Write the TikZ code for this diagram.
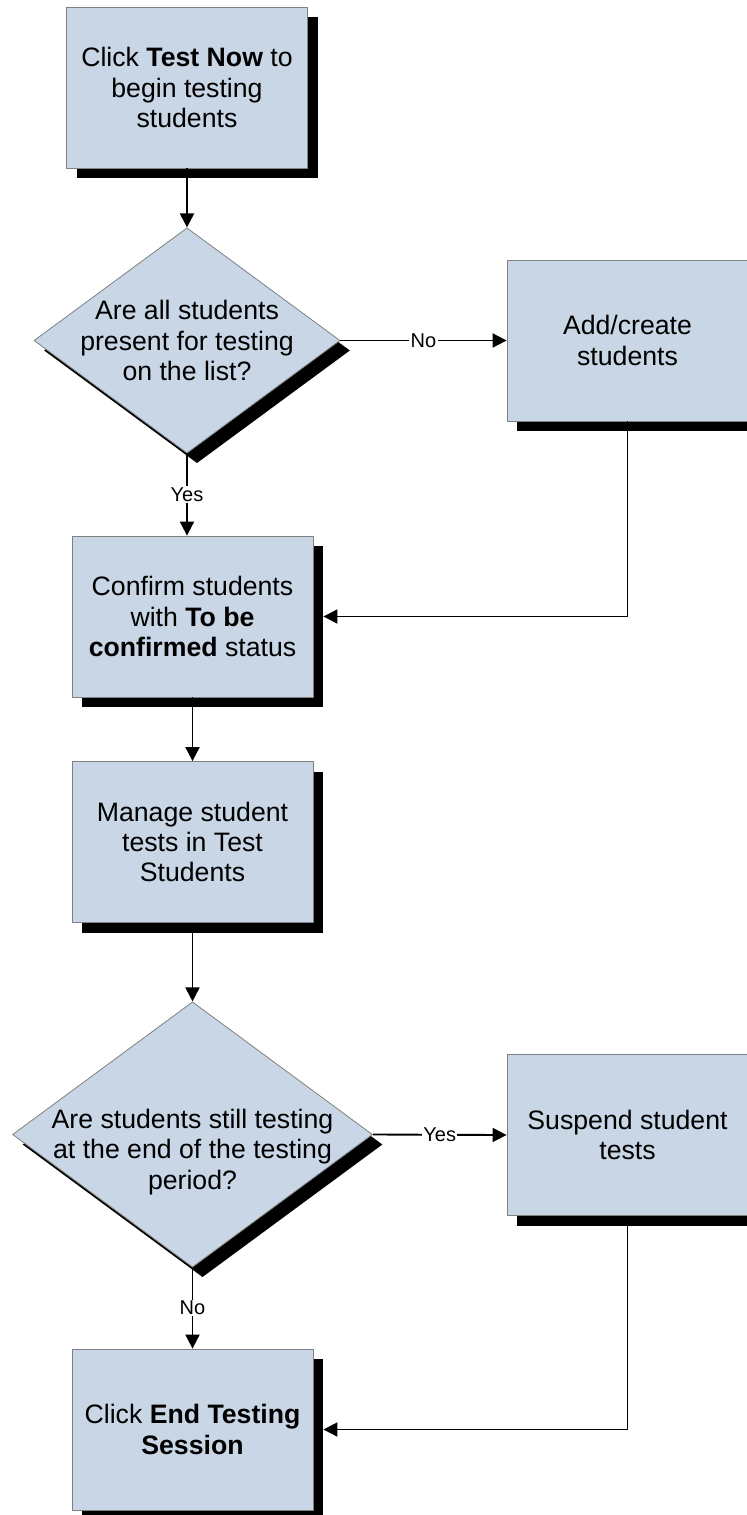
\documentclass[tikz,border=0pt]{standalone}
\usepackage{fontspec}
\setmainfont{Liberation Sans}
\usetikzlibrary{shapes.geometric,shadows,arrows.meta}
\definecolor{boxblue}{RGB}{200,214,229}
\begin{document}
\begin{tikzpicture}[x=.75pt, y=-.75pt, line join=round, >={Triangle[length=10.5pt,width=10.5pt]},
	font=\fontsize{20}{22.8}\selectfont,
	boxshadow/.style={drop shadow={shadow xshift=7.5pt, shadow yshift=-7.5pt, opacity=1, fill=black}},
	stepbox/.style={rectangle, boxshadow, fill=boxblue, draw=gray, line width=.6pt, minimum width=180.75pt, minimum height=120.75pt, align=center, inner sep=0pt},
	ask/.style={diamond, boxshadow, fill=boxblue, draw=gray, line width=.6pt, inner sep=0pt},
	txt/.style={align=center, inner sep=0pt},
	lbl/.style={fill=white, inner sep=1pt, font=\fontsize{15}{17}\selectfont},
	conn/.style={->, line width=1.4pt}]
	\useasboundingbox (0,0) rectangle (746,1515);
	% left column
	\node[stepbox] (start) at (187,87.5) {Click \textbf{Test Now} to\\begin testing\\students};
	\node[ask, minimum width=229.5pt, minimum height=169pt] (q1) at (187,340.5) {};
	\node[txt] (q1t) at (q1) {Are all students\\present for testing\\on the list?};
	\node[stepbox] (conf) at (192.5,616.5) {Confirm students\\with \textbf{To be}\\\textbf{confirmed} status};
	\node[stepbox] (manage) at (192.5,842) {Manage student\\tests in Test\\Students};
	\node[ask, minimum width=270pt, minimum height=199pt] (q2) at (192.5,1134.5) {};
	\node[txt] (q2t) at (192.5,1152) {Are students still testing\\at the end of the testing\\period?};
	\node[stepbox] (endb) at (192.5,1429.5) {Click \textbf{End Testing}\\\textbf{Session}};
	% right column
	\node[stepbox] (add) at (627.5,340.5) {Add/create\\students};
	\node[stepbox] (susp) at (627.5,1135) {Suspend student\\tests};
	% connectors
	\draw[conn] (start.south) -- (q1.north);
	\draw[conn] (q1.east) -- node[lbl] (no1) {No} (add.west);
	\draw[conn] (q1.south) -- node[lbl] (yes1) {Yes} (q1.south |- conf.north);
	\draw[conn] (add.south) |- ([xshift=7.5pt]conf.east);
	\draw[conn] (conf.south) -- (manage.north);
	\draw[conn] (manage.south) -- (q2.north);
	\draw[conn] (q2.east) -- node[lbl] (yes2) {Yes} (susp.west);
	\draw[conn] (q2.south) -- node[lbl] (no2) {No} (endb.north);
	\draw[conn] (susp.south) |- ([xshift=7.5pt]endb.east);
\end{tikzpicture}
\end{document}
